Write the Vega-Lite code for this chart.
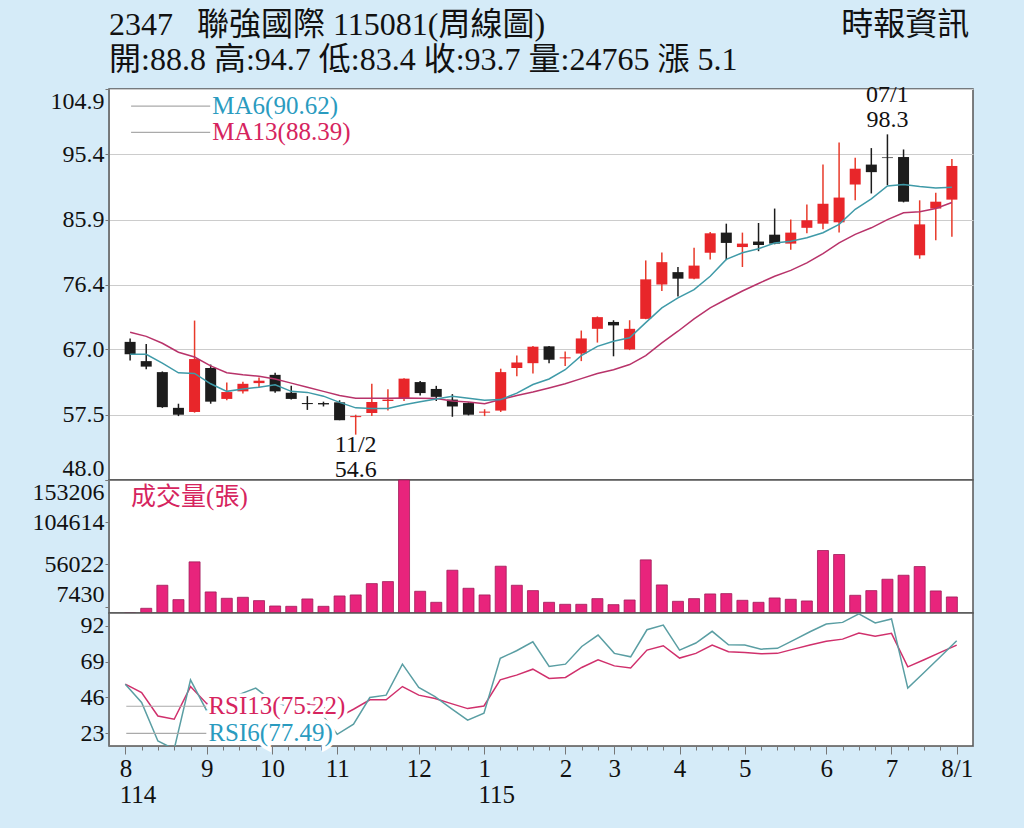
{
  "$schema": "https://vega.github.io/schema/vega-lite/v6.json",
  "background": "#d5ebf8",
  "padding": {"left": 31, "right": 52, "top": 8, "bottom": 20},
  "spacing": 0,
  "bounds": "flush",
  "config": {
    "font": "Liberation Serif, Noto Sans CJK TC",
    "view": {"fill": "white", "stroke": "#555", "strokeWidth": 1.5},
    "axis": {
      "labelFont": "Liberation Serif, Noto Sans CJK TC",
      "labelFontSize": 24,
      "labelColor": "#111",
      "tickColor": "#777",
      "domainColor": "#777",
      "tickSize": 4,
      "labelPadding": 1,
      "grid": false
    },
    "text": {"font": "Liberation Serif, Noto Sans CJK TC", "fontSize": 24}
  },
  "datasets": {
    "w": [
      {"i":0,"o":68.1,"h":68.6,"l":65.4,"c":66.3,"vol":0,"ma6":66.3,"ma13":69.5,"r6":54.5,"r13":54.5},
      {"i":1,"o":65.3,"h":67.8,"l":64.1,"c":64.5,"vol":5400,"ma6":66.3,"ma13":68.9,"r6":42.8,"r13":49.2},
      {"i":2,"o":63.7,"h":63.8,"l":58.5,"c":58.6,"vol":31950,"ma6":65.0,"ma13":67.9,"r6":18.2,"r13":34.2},
      {"i":3,"o":58.5,"h":59.1,"l":57.3,"c":57.5,"vol":15400,"ma6":63.6,"ma13":66.6,"r6":13,"r13":32.1},
      {"i":4,"o":57.9,"h":71.2,"l":57.8,"c":65.6,"vol":58900,"ma6":63.5,"ma13":65.9,"r6":57.3,"r13":53.0},
      {"i":5,"o":64.3,"h":64.8,"l":59.1,"c":59.4,"vol":24250,"ma6":62.0,"ma13":64.6,"r6":37.4,"r13":42},
      {"i":6,"o":59.8,"h":62.2,"l":59.6,"c":60.8,"vol":16940,"ma6":60.9,"ma13":63.6,"r6":42,"r13":44},
      {"i":7,"o":60.9,"h":62.3,"l":60.6,"c":62.0,"vol":18090,"ma6":61.25,"ma13":63.3,"r6":48,"r13":46},
      {"i":8,"o":62.1,"h":62.9,"l":61.5,"c":62.45,"vol":14240,"ma6":61.5,"ma13":63.1,"r6":52,"r13":47},
      {"i":9,"o":63.3,"h":63.6,"l":60.7,"c":60.9,"vol":8080,"ma6":61.85,"ma13":62.7,"r6":44,"r13":45},
      {"i":10,"o":60.7,"h":61.7,"l":59.7,"c":59.8,"vol":7700,"ma6":60.9,"ma13":62.1,"r6":40,"r13":43},
      {"i":11,"o":59.2,"h":60.2,"l":58.2,"c":59.05,"vol":16170,"ma6":60.75,"ma13":61.5,"r6":38,"r13":42},
      {"i":12,"o":59.2,"h":59.4,"l":58.7,"c":59.0,"vol":7700,"ma6":60.2,"ma13":60.9,"r6":36,"r13":41},
      {"i":13,"o":59.3,"h":59.6,"l":56.7,"c":56.7,"vol":19630,"ma6":59.3,"ma13":60.3,"r6":22.5,"r13":33},
      {"i":14,"o":57.15,"h":57.5,"l":54.6,"c":57.3,"vol":20790,"ma6":58.5,"ma13":59.9,"r6":28.9,"r13":38.5},
      {"i":15,"o":57.75,"h":62.0,"l":57.3,"c":59.35,"vol":33870,"ma6":58.4,"ma13":59.9,"r6":46.0,"r13":44.5},
      {"i":16,"o":59.5,"h":61.2,"l":58.1,"c":59.7,"vol":36180,"ma6":58.4,"ma13":59.9,"r6":47.5,"r13":44.5},
      {"i":17,"o":59.9,"h":62.8,"l":59.5,"c":62.75,"vol":153206,"ma6":58.95,"ma13":59.95,"r6":67.3,"r13":53.0},
      {"i":18,"o":62.25,"h":62.4,"l":60.3,"c":60.65,"vol":25020,"ma6":59.4,"ma13":59.9,"r6":52.4,"r13":47.5},
      {"i":19,"o":61.25,"h":61.7,"l":59.5,"c":60.1,"vol":12320,"ma6":59.8,"ma13":59.85,"r6":46.6,"r13":45.3},
      {"i":20,"o":59.7,"h":60.5,"l":57.2,"c":58.7,"vol":49270,"ma6":60.2,"ma13":59.5,"r6":38.9,"r13":42.1},
      {"i":21,"o":59.2,"h":59.3,"l":57.4,"c":57.5,"vol":28490,"ma6":59.9,"ma13":59.35,"r6":31.5,"r13":38.9},
      {"i":22,"o":57.8,"h":58.3,"l":57.3,"c":57.95,"vol":20790,"ma6":59.6,"ma13":59.1,"r6":35.9,"r13":40.6},
      {"i":23,"o":58.1,"h":64.2,"l":57.9,"c":63.7,"vol":53890,"ma6":59.7,"ma13":59.7,"r6":71.0,"r13":57.3},
      {"i":24,"o":64.3,"h":66.1,"l":63.1,"c":65.1,"vol":31950,"ma6":60.65,"ma13":60.3,"r6":75.9,"r13":60.3},
      {"i":25,"o":65.0,"h":67.5,"l":63.5,"c":67.4,"vol":25790,"ma6":61.9,"ma13":60.8,"r6":81.6,"r13":64.1},
      {"i":26,"o":67.45,"h":67.5,"l":65.0,"c":65.5,"vol":12320,"ma6":62.7,"ma13":61.4,"r6":65.8,"r13":58.2},
      {"i":27,"o":65.7,"h":66.7,"l":64.6,"c":65.85,"vol":10010,"ma6":64.05,"ma13":62.0,"r6":67.3,"r13":58.8},
      {"i":28,"o":66.4,"h":69.75,"l":65.3,"c":68.6,"vol":10010,"ma6":66.1,"ma13":62.75,"r6":78.6,"r13":65.2},
      {"i":29,"o":70.0,"h":71.8,"l":68.0,"c":71.7,"vol":16550,"ma6":67.45,"ma13":63.5,"r6":85.9,"r13":70.1},
      {"i":30,"o":71.0,"h":71.25,"l":66.0,"c":70.5,"vol":9620,"ma6":68.2,"ma13":64.05,"r6":74.2,"r13":66.2},
      {"i":31,"o":67.0,"h":71.25,"l":66.9,"c":70.0,"vol":15010,"ma6":68.7,"ma13":64.8,"r6":72.0,"r13":64.8},
      {"i":32,"o":71.45,"h":79.95,"l":71.4,"c":77.2,"vol":61200,"ma6":70.9,"ma13":66.1,"r6":89.3,"r13":76.3},
      {"i":33,"o":76.45,"h":81.1,"l":75.5,"c":79.7,"vol":32340,"ma6":73.05,"ma13":67.95,"r6":92.3,"r13":79.1},
      {"i":34,"o":78.25,"h":79.0,"l":74.7,"c":77.3,"vol":13470,"ma6":74.5,"ma13":69.65,"r6":76.3,"r13":71.2},
      {"i":35,"o":77.3,"h":81.8,"l":77.2,"c":79.2,"vol":16550,"ma6":75.7,"ma13":71.45,"r6":80.8,"r13":74.2},
      {"i":36,"o":81.07,"h":84.1,"l":80.1,"c":83.9,"vol":21940,"ma6":77.65,"ma13":73.05,"r6":88.3,"r13":79.5},
      {"i":37,"o":84.0,"h":85.3,"l":80.0,"c":82.5,"vol":22330,"ma6":80.1,"ma13":74.3,"r6":79.7,"r13":75.2},
      {"i":38,"o":81.9,"h":84.0,"l":79.0,"c":82.4,"vol":14630,"ma6":81.07,"ma13":75.5,"r6":79.5,"r13":74.8},
      {"i":39,"o":82.7,"h":85.4,"l":81.3,"c":82.2,"vol":12320,"ma6":81.65,"ma13":76.6,"r6":76.9,"r13":73.9},
      {"i":40,"o":83.7,"h":87.5,"l":82.3,"c":82.4,"vol":17320,"ma6":82.5,"ma13":77.65,"r6":77.4,"r13":74.2},
      {"i":41,"o":82.4,"h":85.9,"l":81.5,"c":84.0,"vol":15780,"ma6":82.75,"ma13":78.5,"r6":82.7,"r13":76.9},
      {"i":42,"o":84.7,"h":88.1,"l":83.9,"c":85.8,"vol":13860,"ma6":83.25,"ma13":79.6,"r6":88.0,"r13":79.5},
      {"i":43,"o":85.3,"h":93.9,"l":84.5,"c":88.2,"vol":71990,"ma6":83.98,"ma13":80.95,"r6":93.0,"r13":81.9},
      {"i":44,"o":85.5,"h":97.1,"l":84.0,"c":89.1,"vol":67370,"ma6":85.2,"ma13":82.5,"r6":94.0,"r13":83.3},
      {"i":45,"o":91.0,"h":94.9,"l":88.7,"c":93.3,"vol":20400,"ma6":87.4,"ma13":83.75,"r6":99.4,"r13":87.2},
      {"i":46,"o":93.9,"h":96.3,"l":89.7,"c":92.8,"vol":25790,"ma6":88.9,"ma13":84.7,"r6":93.6,"r13":85.1},
      {"i":47,"o":94.95,"h":98.3,"l":90.9,"c":94.85,"vol":38880,"ma6":90.8,"ma13":85.9,"r6":96.2,"r13":87.0},
      {"i":48,"o":95.0,"h":96.1,"l":88.4,"c":88.5,"vol":43500,"ma6":91.0,"ma13":86.9,"r6":52.0,"r13":65.6},
      {"i":49,"o":80.7,"h":88.7,"l":80.2,"c":85.2,"vol":53510,"ma6":90.7,"ma13":87.05,"r6":62.0,"r13":70.1},
      {"i":50,"o":87.5,"h":89.8,"l":82.9,"c":88.5,"vol":25410,"ma6":90.5,"ma13":87.5,"r6":72.0,"r13":74.8},
      {"i":51,"o":88.8,"h":94.7,"l":83.4,"c":93.7,"vol":18480,"ma6":90.62,"ma13":88.39,"r6":82.3,"r13":79.5}
    ]
  },
  "vconcat": [
    {
      "width": 864,
      "height": 391,
      "title": {
        "text": ["2347\u00a0\u00a0\u00a0聯強國際 115081(周線圖)\u00a0\u00a0\u00a0\u00a0\u00a0\u00a0\u00a0\u00a0\u00a0\u00a0\u00a0\u00a0\u00a0\u00a0\u00a0\u00a0\u00a0\u00a0\u00a0\u00a0\u00a0\u00a0\u00a0\u00a0\u00a0\u00a0\u00a0\u00a0\u00a0\u00a0\u00a0\u00a0\u00a0\u00a0\u00a0\u00a0\u00a0時報資訊", "開:88.8 高:94.7 低:83.4 收:93.7 量:24765 漲 5.1"],
        "anchor": "start",
        "frame": "group",
        "font": "Liberation Serif, Noto Sans CJK TC",
        "fontSize": 32,
        "fontWeight": "normal",
        "lineHeight": 35,
        "color": "#111",
        "offset": 6
      },
      "data": {"name": "w"},
      "layer": [
        {
          "mark": {"type": "rule", "strokeWidth": 1.5},
          "encoding": {
            "x": {"field": "i", "type": "quantitative", "scale": {"domain": [-1, 52], "nice": false, "zero": false}, "axis": null},
            "y": {
              "field": "l", "type": "quantitative",
              "scale": {"domain": [48, 104.9], "nice": false, "zero": false},
              "axis": {"title": null, "values": [48, 57.5, 67, 76.4, 85.9, 95.4, 104.9], "format": ".1f", "grid": true, "gridColor": "#ccc", "labelFlush": true}
            },
            "y2": {"field": "h"},
            "color": {"condition": {"test": "datum.c >= datum.o", "value": "#e83a2a"}, "value": "#1c1c1c"}
          }
        },
        {
          "mark": {"type": "bar", "width": 11},
          "encoding": {
            "x": {"field": "i", "type": "quantitative"},
            "y": {"field": "o", "type": "quantitative"},
            "y2": {"field": "c"},
            "color": {"condition": {"test": "datum.c >= datum.o", "value": "#e8262a"}, "value": "#1c1c1c"}
          }
        },
        {
          "mark": {"type": "line", "color": "#b8336a", "strokeWidth": 1.5},
          "encoding": {"x": {"field": "i", "type": "quantitative"}, "y": {"field": "ma13", "type": "quantitative"}}
        },
        {
          "mark": {"type": "line", "color": "#3f9aa8", "strokeWidth": 1.5},
          "encoding": {"x": {"field": "i", "type": "quantitative"}, "y": {"field": "ma6", "type": "quantitative"}}
        },
        {
          "data": {"values": [{}]},
          "mark": {"type": "rule", "color": "#aaa", "strokeWidth": 1.2},
          "encoding": {"x": {"datum": 0.06}, "x2": {"datum": 4.97}, "y": {"datum": 102.4}}
        },
        {
          "data": {"values": [{}]},
          "mark": {"type": "rule", "color": "#aaa", "strokeWidth": 1.2},
          "encoding": {"x": {"datum": 0.06}, "x2": {"datum": 4.97}, "y": {"datum": 98.6}}
        },
        {
          "data": {"values": [{}]},
          "mark": {"type": "text", "align": "left", "baseline": "middle", "color": "#2a9bbf", "fontSize": 25},
          "encoding": {"x": {"datum": 5.1}, "y": {"datum": 102.4}, "text": {"value": "MA6(90.62)"}}
        },
        {
          "data": {"values": [{}]},
          "mark": {"type": "text", "align": "left", "baseline": "middle", "color": "#d6245e", "fontSize": 25},
          "encoding": {"x": {"datum": 5.1}, "y": {"datum": 98.6}, "text": {"value": "MA13(88.39)"}}
        },
        {
          "data": {"values": [{}]},
          "mark": {"type": "text", "align": "center", "baseline": "top", "color": "#111", "fontSize": 24, "lineHeight": 25, "dy": -2},
          "encoding": {"x": {"datum": 14}, "y": {"datum": 54.6}, "text": {"value": ["11/2", "54.6"]}}
        },
        {
          "data": {"values": [{}]},
          "mark": {"type": "text", "align": "center", "baseline": "bottom", "color": "#111", "fontSize": 24, "lineHeight": 25, "dy": -27},
          "encoding": {"x": {"datum": 47}, "y": {"datum": 98.3}, "text": {"value": ["07/1", "98.3"]}}
        }
      ]
    },
    {
      "width": 864,
      "height": 133,
      "data": {"name": "w"},
      "layer": [
        {
          "mark": {"type": "bar", "width": 11, "color": "#e8247c", "stroke": "#a01a58", "strokeWidth": 0.8},
          "encoding": {
            "x": {"field": "i", "type": "quantitative", "scale": {"domain": [-1, 52], "nice": false, "zero": false}, "axis": null},
            "y": {
              "field": "vol", "type": "quantitative",
              "scale": {"domain": [0, 153206], "nice": false},
              "axis": {"title": null, "values": [7430, 56022, 104614, 153206], "format": "d", "labelFlush": 10}
            }
          }
        },
        {
          "data": {"values": [{}]},
          "mark": {"type": "text", "align": "left", "baseline": "middle", "color": "#d6245e", "fontSize": 25},
          "encoding": {"x": {"datum": 0.06}, "y": {"datum": 134000}, "text": {"value": "成交量(張)"}}
        }
      ]
    },
    {
      "width": 864,
      "height": 133,
      "data": {"name": "w"},
      "resolve": {"axis": {"x": "independent"}},
      "layer": [
        {
          "mark": {"type": "line", "color": "#d0306c", "strokeWidth": 1.5, "clip": true},
          "encoding": {
            "x": {
              "field": "i", "type": "quantitative",
              "scale": {"domain": [-1, 52], "nice": false, "zero": false},
              "axis": {
                "title": null,
                "orient": "bottom",
                "values": [0, 5, 9, 13, 18, 22, 27, 30, 34, 38, 43, 47, 51],
                "labelExpr": "datum.value==0?['8','114']:datum.value==5?'9':datum.value==9?'10':datum.value==13?'11':datum.value==18?'12':datum.value==22?['1','115']:datum.value==27?'2':datum.value==30?'3':datum.value==34?'4':datum.value==38?'5':datum.value==43?'6':datum.value==47?'7':'8/1'",
                "labelOverlap": false,
                "labelFlush": false,
                "labelFontSize": 25,
                "labelLineHeight": 26,
                "labelPadding": 2,
                "labelAlign": {"condition": {"test": "datum.value == 0 || datum.value == 22", "value": "left"}, "value": "center"},
                "labelOffset": {"condition": {"test": "datum.value == 0 || datum.value == 22", "value": -6}, "value": 0},
                "tickSize": 8
              }
            },
            "y": {
              "field": "r13", "type": "quantitative",
              "scale": {"domain": [15, 100], "nice": false, "zero": false},
              "axis": {"title": null, "values": [23, 46, 69, 92]}
            }
          }
        },
        {
          "mark": {"type": "line", "color": "#5a9ea3", "strokeWidth": 1.5, "clip": true},
          "encoding": {
            "x": {
              "field": "i", "type": "quantitative",
              "axis": {
                "title": null,
                "orient": "bottom",
                "values": [0,1,2,3,4,5,6,7,8,9,10,11,12,13,14,15,16,17,18,19,20,21,22,23,24,25,26,27,28,29,30,31,32,33,34,35,36,37,38,39,40,41,42,43,44,45,46,47,48,49,50,51],
                "labels": false,
                "domain": false,
                "tickSize": 4
              }
            },
            "y": {"field": "r6", "type": "quantitative"}
          }
        },
        {
          "data": {"values": [{}]},
          "mark": {"type": "rule", "color": "#aaa", "strokeWidth": 1.2},
          "encoding": {"x": {"datum": 0.06, "axis": null}, "x2": {"datum": 4.97}, "y": {"datum": 40.4}}
        },
        {
          "data": {"values": [{}]},
          "mark": {"type": "rule", "color": "#aaa", "strokeWidth": 1.2},
          "encoding": {"x": {"datum": 0.06, "axis": null}, "x2": {"datum": 4.97}, "y": {"datum": 23.1}}
        },
        {
          "data": {"values": [{}]},
          "mark": {"type": "text", "align": "left", "baseline": "middle", "color": "white", "stroke": "white", "strokeWidth": 7, "fontSize": 25},
          "encoding": {"x": {"datum": 5.1, "axis": null}, "y": {"datum": 40.4}, "text": {"value": "RSI13(75.22)"}}
        },
        {
          "data": {"values": [{}]},
          "mark": {"type": "text", "align": "left", "baseline": "middle", "color": "white", "stroke": "white", "strokeWidth": 7, "fontSize": 25},
          "encoding": {"x": {"datum": 5.1, "axis": null}, "y": {"datum": 23.1}, "text": {"value": "RSI6(77.49)"}}
        },
        {
          "data": {"values": [{}]},
          "mark": {"type": "text", "align": "left", "baseline": "middle", "color": "#d6245e", "fontSize": 25},
          "encoding": {"x": {"datum": 5.1, "axis": null}, "y": {"datum": 40.4}, "text": {"value": "RSI13(75.22)"}}
        },
        {
          "data": {"values": [{}]},
          "mark": {"type": "text", "align": "left", "baseline": "middle", "color": "#2a9bbf", "fontSize": 25},
          "encoding": {"x": {"datum": 5.1, "axis": null}, "y": {"datum": 23.1}, "text": {"value": "RSI6(77.49)"}}
        }
      ]
    }
  ]
}
